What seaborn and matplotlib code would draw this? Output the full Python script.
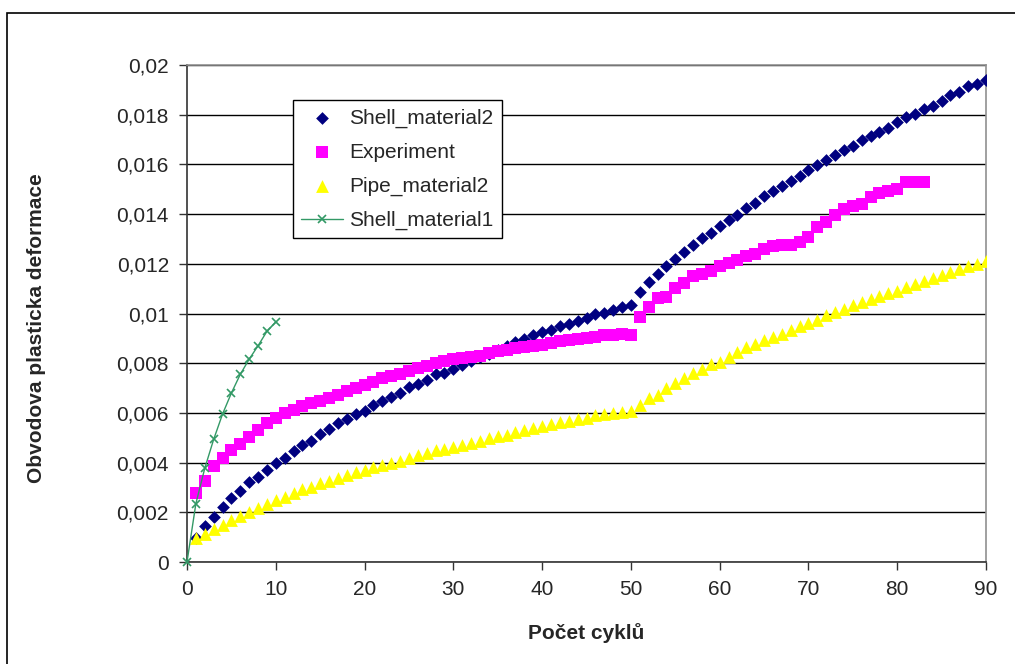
import pandas as pd
import numpy as np
import matplotlib.pyplot as plt
import seaborn as sns
from matplotlib.ticker import MultipleLocator, FuncFormatter
from matplotlib.patches import Rectangle

# data (one point per cycle)
shell2_y = [0.00095, 0.00143, 0.00181, 0.00222, 0.00256, 0.00286, 0.0032, 0.00344, 0.00371, 0.00399,
            0.00419, 0.00446, 0.00469, 0.00487, 0.00514, 0.00535, 0.00558, 0.00575, 0.00596, 0.00609,
            0.0063, 0.00646, 0.00664, 0.0068, 0.00703, 0.00717, 0.00731, 0.00755, 0.00762, 0.00775,
            0.00793, 0.0081, 0.00823, 0.00838, 0.00852, 0.00868, 0.00884, 0.00898, 0.00914, 0.00925,
            0.00935, 0.00948, 0.00959, 0.00969, 0.00982, 0.00997, 0.01003, 0.01016, 0.01027, 0.01034,
            0.01088, 0.01125, 0.0116, 0.0119, 0.01218, 0.01249, 0.01275, 0.01303, 0.01322, 0.01351,
            0.01377, 0.01397, 0.01426, 0.01446, 0.01472, 0.01492, 0.01514, 0.01535, 0.01555, 0.01578,
            0.01598, 0.01619, 0.01637, 0.01657, 0.01676, 0.01697, 0.01714, 0.01731, 0.01748, 0.01771,
            0.01792, 0.01803, 0.01823, 0.01837, 0.01857, 0.0188, 0.01891, 0.01914, 0.01925, 0.01939]
shell2_x = list(range(1, 91))

experiment_y = [0.00279, 0.00327, 0.00385, 0.00419, 0.00449, 0.00476, 0.00503, 0.00531, 0.00558, 0.00578,
                0.00599, 0.00612, 0.00626, 0.00639, 0.00649, 0.0066, 0.00673, 0.00687, 0.00701, 0.00712,
                0.00725, 0.00739, 0.00748, 0.00758, 0.00769, 0.0078, 0.00789, 0.00799, 0.00807, 0.00816,
                0.0082, 0.00825, 0.0083, 0.0084, 0.0085, 0.00853, 0.0086, 0.00864, 0.00871, 0.00875,
                0.0088, 0.00888, 0.00894, 0.00898, 0.00902, 0.00907, 0.00912, 0.00914, 0.00918, 0.00912,
                0.00986, 0.01027, 0.01061, 0.01068, 0.01102, 0.01122, 0.0115, 0.0116, 0.0117, 0.0119,
                0.01204, 0.01215, 0.01231, 0.01238, 0.01258, 0.01272, 0.01275, 0.01275, 0.01288, 0.01306,
                0.01347, 0.01367, 0.01397, 0.01422, 0.01433, 0.01442, 0.01469, 0.01483, 0.01492, 0.01503,
                0.01528, 0.01528, 0.01528]
experiment_x = list(range(1, 84))

pipe2_y = [0.00095, 0.00113, 0.00132, 0.0015, 0.0017, 0.00186, 0.002, 0.00218, 0.00235, 0.00249,
           0.00263, 0.00276, 0.00293, 0.00303, 0.00317, 0.00327, 0.0034, 0.0035, 0.00361, 0.00371,
           0.00381, 0.0039, 0.00399, 0.00408, 0.00418, 0.00429, 0.00439, 0.00449, 0.00456, 0.00463,
           0.00469, 0.00479, 0.00487, 0.00497, 0.00506, 0.00513, 0.00524, 0.00531, 0.0054, 0.00548,
           0.00554, 0.00562, 0.00567, 0.00575, 0.00581, 0.00592, 0.00595, 0.006, 0.00603, 0.00606,
           0.00633, 0.0066, 0.00673, 0.00701, 0.00721, 0.00741, 0.00762, 0.00775, 0.00796, 0.00803,
           0.00826, 0.00846, 0.00864, 0.00878, 0.00895, 0.00907, 0.00918, 0.00935, 0.00948, 0.00962,
           0.00975, 0.00993, 0.01007, 0.0102, 0.01034, 0.01048, 0.01058, 0.01071, 0.01084, 0.01092,
           0.01106, 0.0112, 0.01129, 0.01143, 0.01156, 0.01166, 0.0118, 0.0119, 0.01201, 0.01211]
pipe2_x = list(range(1, 91))

shell1_y = [0.0, 0.00235, 0.00377, 0.00493, 0.00595, 0.0068, 0.00755, 0.00816, 0.0087, 0.00928, 0.00966]
shell1_x = list(range(0, 11))

sns.set_theme(style="white")
plt.rcParams['font.family'] = ['Liberation Sans', 'DejaVu Sans']

fig = plt.figure(figsize=(10.15, 6.64), dpi=100)
ax = fig.add_axes([187 / 1015, 1 - 562 / 664, 799 / 1015, 497 / 664])

sns.scatterplot(x=shell2_x, y=shell2_y, marker='D', s=42, color='#000080', linewidth=0,
                label='Shell_material2', ax=ax, zorder=3)
sns.scatterplot(x=experiment_x, y=experiment_y, marker='s', s=80, color='#FF00FF', linewidth=0,
                label='Experiment', ax=ax, zorder=3)
sns.scatterplot(x=pipe2_x, y=pipe2_y, marker='^', s=85, color='#FFFF00', linewidth=0,
                label='Pipe_material2', ax=ax, zorder=3)
sns.lineplot(x=shell1_x, y=shell1_y, marker='x', markersize=6, markeredgewidth=1.2,
             markeredgecolor='#339966', color='#339966', linewidth=1,
             label='Shell_material1', ax=ax, zorder=4, clip_on=False)

ax.set_xlim(0, 90)
ax.set_ylim(0, 0.02)
ax.xaxis.set_major_locator(MultipleLocator(10))
ax.yaxis.set_major_locator(MultipleLocator(0.002))
ax.yaxis.set_major_formatter(FuncFormatter(lambda v, p: '{:g}'.format(round(v, 4)).replace('.', ',')))
ax.tick_params(axis='both', which='major', labelsize=15, direction='out', length=6, width=1,
               color='#333333', pad=7, left=True, bottom=True)
ax.grid(axis='y', color='#000000', linewidth=1)
ax.set_axisbelow(True)
for side in ['left', 'bottom']:
    ax.spines[side].set_color('#333333')
    ax.spines[side].set_linewidth(1.2)
for side in ['top', 'right']:
    ax.spines[side].set_color('#909090')
    ax.spines[side].set_linewidth(1.2)
ax.set_xlabel('')
ax.set_ylabel('')

leg = ax.legend(loc='upper left', bbox_to_anchor=(0.1327, 0.9296), fontsize=15, frameon=True,
                fancybox=False, framealpha=1, edgecolor='#000000', borderpad=0.4,
                handlelength=2.0, handletextpad=0.3, labelspacing=0.72, borderaxespad=0)
leg.get_frame().set_linewidth(1)

fig.text(586 / 1015, 1 - 633 / 664, 'Počet cyklů', ha='center', va='center', fontsize=15, fontweight='bold')
fig.text(37 / 1015, 1 - 328 / 664, 'Obvodova plasticka deformace', ha='center', va='center',
         rotation=90, fontsize=15, fontweight='bold')

# outer chart frame
fig.add_artist(Rectangle((7 / 1015, -0.1), 2, 1.1 - 13 / 664, transform=fig.transFigure,
                         fill=False, edgecolor='black', linewidth=1.2))

fig.savefig('out.png', dpi=100)
